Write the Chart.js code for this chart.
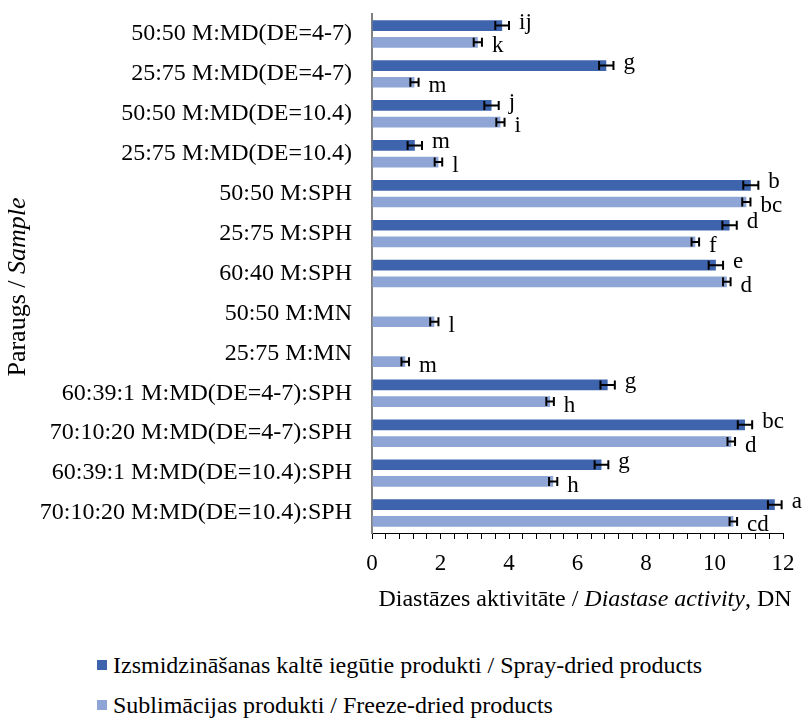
<!DOCTYPE html>
<html>
<head>
<meta charset="utf-8">
<script src="https://cdn.jsdelivr.net/npm/chart.js@4/dist/chart.umd.min.js"></script>
<style>
  html, body { margin: 0; padding: 0; background: #fff; }
  #wrap { position: relative; width: 803px; height: 719px; }
  #chart { position: absolute; left: 0; top: 0; }
  #legend { position: absolute; left: 97px; top: 645px; font-family: "Liberation Serif", "Times New Roman", serif; font-size: 24px; color: #000; }
  .item { display: flex; align-items: center; height: 40px; white-space: nowrap; }
  .sw { width: 10px; height: 10px; margin-right: 6px; }
</style>
</head>
<body>
<div id="wrap">
  <canvas id="chart" width="803" height="640"></canvas>
  <div id="legend"></div>
</div>
<script>
// Samples (top to bottom)
const categories = [
  "50:50 M:MD(DE=4-7)",
  "25:75 M:MD(DE=4-7)",
  "50:50 M:MD(DE=10.4)",
  "25:75 M:MD(DE=10.4)",
  "50:50 M:SPH",
  "25:75 M:SPH",
  "60:40 M:SPH",
  "50:50 M:MN",
  "25:75 M:MN",
  "60:39:1 M:MD(DE=4-7):SPH",
  "70:10:20 M:MD(DE=4-7):SPH",
  "60:39:1 M:MD(DE=10.4):SPH",
  "70:10:20 M:MD(DE=10.4):SPH"
];

// Diastase activity, DN
const sprayDried = [3.80, 6.84, 3.49, 1.25, 11.06, 10.44, 10.04, null, null, 6.88, 10.89, 6.70, 11.76];
const sprayErr   = [0.20, 0.21, 0.21, 0.21, 0.22, 0.21, 0.21, null, null, 0.21, 0.21, 0.20, 0.20];
const sprayLetters = ["ij", "g", "j", "m", "b", "d", "e", null, null, "g", "bc", "g", "a"];

const freezeDried = [3.09, 1.24, 3.75, 1.94, 10.93, 9.44, 10.36, 1.82, 0.97, 5.20, 10.49, 5.29, 10.55];
const freezeErr   = [0.12, 0.12, 0.12, 0.11, 0.12, 0.11, 0.11, 0.12, 0.11, 0.11, 0.11, 0.12, 0.11];
const freezeLetters = ["k", "m", "i", "l", "bc", "f", "d", "l", "m", "h", "d", "h", "cd"];

const seriesNames = [
  "Izsmidzināšanas kaltē iegūtie produkti / Spray-dried products",
  "Sublimācijas produkti / Freeze-dried products"
];
const xTicksMin = 0, xTicksMax = 12, xMinorStep = 0.4, xLabelStep = 2;

const SERIF = '"Liberation Serif", "Times New Roman", serif';
const DARK = '#3E64AE';
const LIGHT = '#8EA5D6';

// Error whiskers plus significance letters next to each bar
const errorBarPlugin = {
  id: 'errorBars',
  afterDatasetsDraw(chart) {
    const ctx = chart.ctx;
    const xs = chart.scales.x;
    chart.data.datasets.forEach((ds, di) => {
      const meta = chart.getDatasetMeta(di);
      meta.data.forEach((bar, i) => {
        const v = ds.data[i];
        if (v === null || v === undefined) return;
        const e = ds.errors[i];
        const xl = xs.getPixelForValue(v - e);
        const xr = xs.getPixelForValue(v + e);
        const y = bar.y;
        const cap = 4.5;
        ctx.save();
        ctx.strokeStyle = '#000';
        ctx.lineWidth = 2;
        ctx.beginPath();
        ctx.moveTo(xl, y); ctx.lineTo(xr, y);
        ctx.moveTo(xl, y - cap); ctx.lineTo(xl, y + cap);
        ctx.moveTo(xr, y - cap); ctx.lineTo(xr, y + cap);
        ctx.stroke();
        const letter = ds.letters[i];
        if (letter) {
          ctx.fillStyle = '#000';
          ctx.font = '23px ' + SERIF;
          ctx.textAlign = 'left';
          ctx.textBaseline = 'middle';
          ctx.fillText(letter, xr + 10, y + (di === 0 ? -3 : 4));
        }
        ctx.restore();
      });
    });
  }
};

// Axis titles with an italic English part
function drawMixed(ctx, parts, x, y, size) {
  let total = 0;
  parts.forEach(p => { ctx.font = (p.i ? 'italic ' : '') + size + 'px ' + SERIF; p.w = ctx.measureText(p.t).width; total += p.w; });
  let cx = x - total / 2;
  parts.forEach(p => {
    ctx.font = (p.i ? 'italic ' : '') + size + 'px ' + SERIF;
    ctx.fillText(p.t, cx, y);
    cx += p.w;
  });
}
const axisTitlePlugin = {
  id: 'axisTitles',
  afterDraw(chart) {
    const ctx = chart.ctx;
    ctx.save();
    ctx.fillStyle = '#000';
    ctx.textAlign = 'left';
    ctx.textBaseline = 'middle';
    drawMixed(ctx, [
      { t: 'Diastāzes aktivitāte / ' },
      { t: 'Diastase activity', i: true },
      { t: ', DN' }
    ], 585, 600, 24);
    ctx.translate(18, 287);
    ctx.rotate(-Math.PI / 2);
    drawMixed(ctx, [
      { t: 'Paraugs / ' },
      { t: 'Sample', i: true }
    ], 0, 0, 26);
    ctx.restore();
  }
};

const chart = new Chart(document.getElementById('chart'), {
  type: 'bar',
  data: {
    labels: categories,
    datasets: [
      { label: seriesNames[0], data: sprayDried, errors: sprayErr, letters: sprayLetters, backgroundColor: DARK },
      { label: seriesNames[1], data: freezeDried, errors: freezeErr, letters: freezeLetters, backgroundColor: LIGHT }
    ]
  },
  options: {
    indexAxis: 'y',
    responsive: false,
    animation: false,
    categoryPercentage: 0.837,
    barPercentage: 0.64,
    layout: { padding: { top: 14, right: 20, left: 0, bottom: 0 } },
    plugins: { legend: { display: false }, tooltip: { enabled: false } },
    scales: {
      x: {
        min: xTicksMin,
        max: xTicksMax,
        afterFit(scale) { scale.height = 640 - 533; scale.paddingLeft = 0; scale.paddingRight = 0; },
        afterBuildTicks(scale) {
          const t = [];
          const n = Math.round((xTicksMax - xTicksMin) / xMinorStep);
          for (let k = 0; k <= n; k++) t.push({ value: +(xTicksMin + k * xMinorStep).toFixed(4) });
          scale.ticks = t;
        },
        ticks: {
          autoSkip: false,
          maxRotation: 0,
          padding: 11,
          color: '#000',
          font: { family: SERIF, size: 23 },
          callback(v) {
            const r = v / xLabelStep;
            return Math.abs(r - Math.round(r)) < 1e-6 ? String(Math.round(v)) : '';
          }
        },
        grid: { drawOnChartArea: false, drawTicks: true, tickLength: 6, color: '#000', tickWidth: 1 },
        border: { color: '#000', width: 1 }
      },
      y: {
        afterFit(scale) { scale.width = 372; scale.paddingTop = 0; scale.paddingBottom = 0; },
        ticks: { color: '#000', padding: 20, font: { family: SERIF, size: 24 } },
        grid: { display: true, drawOnChartArea: false, drawTicks: false },
        border: { color: '#808080', width: 2 }
      }
    }
  },
  plugins: [errorBarPlugin, axisTitlePlugin]
});

// Legend built from the chart's datasets
const legend = document.getElementById('legend');
chart.data.datasets.forEach(ds => {
  const row = document.createElement('div');
  row.className = 'item';
  const sw = document.createElement('span');
  sw.className = 'sw';
  sw.style.background = ds.backgroundColor;
  const tx = document.createElement('span');
  tx.textContent = ds.label;
  row.appendChild(sw); row.appendChild(tx);
  legend.appendChild(row);
});
</script>
</body>
</html>
